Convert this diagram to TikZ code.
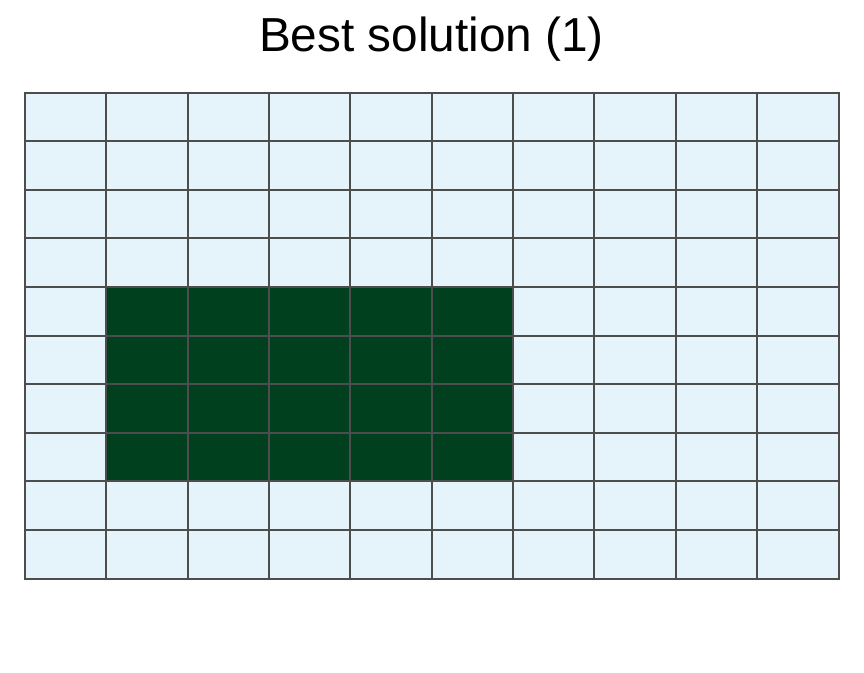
\documentclass[tikz,border=0pt]{standalone}
\usepackage{fontspec}
\setmainfont{Liberation Sans}
\usetikzlibrary{positioning}
\definecolor{emptyclr}{RGB}{229,244,250}
\definecolor{bestclr}{RGB}{0,64,30}
\definecolor{gridclr}{RGB}{77,77,77}
\tikzset{
    cell/.style={draw=gridclr,line width=1.5pt,fill=emptyclr},
    best/.style={cell,fill=bestclr},
    title/.style={font=\fontsize{35.8}{40}\selectfont,inner sep=0pt},
}

\begin{document}
\begin{tikzpicture}[x=0.75pt,y=-0.75pt]
\useasboundingbox (0,0) rectangle (864,672);
% grid of cells
\foreach \c in {0,...,9}
  \foreach \r in {0,...,9}
    \draw[cell] ({25+\c*81.35},{92.5+\r*48.6}) rectangle ++(81.35,48.6);
% selected block
\foreach \c in {1,...,5}
  \foreach \r in {4,...,7}
    \draw[best] ({25+\c*81.35},{92.5+\r*48.6}) rectangle ++(81.35,48.6);
\node[title,anchor=base] (head) at (431.5,51) {Best solution (1)};
\end{tikzpicture}
\end{document}
